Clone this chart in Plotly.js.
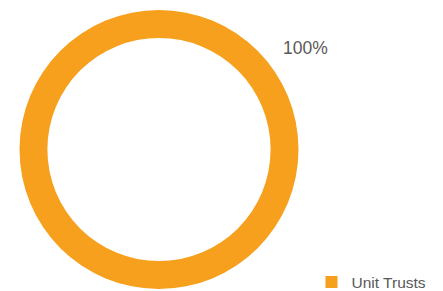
<!DOCTYPE html>
<html>
<head>
<meta charset="utf-8">
<script src="https://cdn.plot.ly/plotly-3.0.1.min.js"></script>
<style>html,body{margin:0;padding:0;background:#fff;}#chart{width:443px;height:291px;}</style>
</head>
<body>
<div id="chart"></div>
<script>
const categories = ["Unit Trusts"];
const values = [100];
const colors = ["#F7A01E"];

const total = values.reduce((a, b) => a + b, 0);
const pctLabels = values.map(v => Math.round(v / total * 100) + "%");

const data = [{
  type: "pie",
  labels: categories,
  values: values,
  hole: 0.8,
  sort: false,
  direction: "clockwise",
  marker: {colors: colors, line: {width: 0}},
  textinfo: "none",
  hoverinfo: "none",
  domain: {x: [(159-140)/443, (159+140)/443], y: [0, 1]},
  showlegend: true
}];

const layout = {
  width: 443, height: 291,
  margin: {l: 0, r: 0, t: 10, b: 2, autoexpand: false},
  paper_bgcolor: "#ffffff",
  plot_bgcolor: "#ffffff",
  showlegend: true,
  legend: {
    x: 311.5/443, xanchor: "left",
    y: (289-282.5)/279, yanchor: "middle",
    font: {family: "Liberation Sans, Arial, sans-serif", size: 15.5, color: "#595959"},
    bgcolor: "rgba(0,0,0,0)"
  },
  annotations: [{
    text: pctLabels[0],
    xref: "paper", yref: "paper",
    x: 305.5/443, y: (289-47.5)/279,
    xanchor: "center", yanchor: "middle",
    showarrow: false,
    font: {family: "Liberation Sans, Arial, sans-serif", size: 17.5, color: "#595959"}
  }]
};

Plotly.newPlot("chart", data, layout, {displayModeBar: false, staticPlot: true});
</script>
</body>
</html>
